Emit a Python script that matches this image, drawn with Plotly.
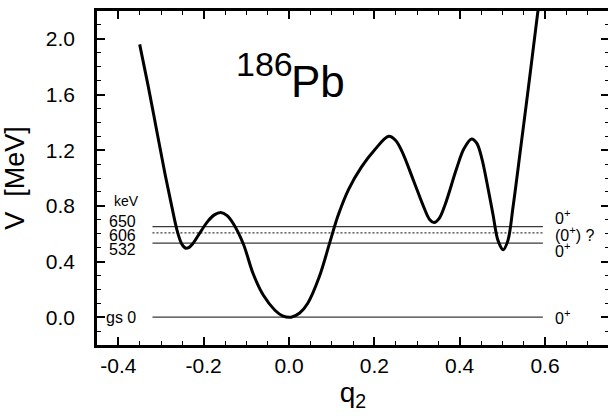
import plotly.graph_objects as go

# Potential energy curve V(q2) for 186Pb
q2 = [-0.35, -0.33, -0.31, -0.29, -0.275, -0.262, -0.252, -0.243, -0.235, -0.225,
      -0.21, -0.19, -0.175, -0.16, -0.145, -0.13, -0.107, -0.084, -0.06, -0.033,
      -0.015, 0.005, 0.025, 0.044, 0.071, 0.095, 0.115, 0.14, 0.17, 0.20,
      0.234, 0.25, 0.265, 0.292, 0.316, 0.33, 0.34, 0.352, 0.366, 0.393,
      0.41, 0.428, 0.44, 0.452, 0.463, 0.478, 0.49, 0.502, 0.513, 0.525,
      0.544, 0.564, 0.583, 0.59]
V = [1.96, 1.66, 1.34, 1.02, 0.80, 0.62, 0.53, 0.497, 0.50, 0.53,
     0.60, 0.69, 0.735, 0.752, 0.73, 0.67, 0.526, 0.312, 0.157, 0.05,
     0.01, 0.0, 0.03, 0.10, 0.29, 0.53, 0.73, 0.92, 1.08, 1.20,
     1.30, 1.27, 1.19, 0.98, 0.79, 0.70, 0.68, 0.71, 0.81, 1.07,
     1.21, 1.28, 1.25, 1.14, 0.98, 0.74, 0.55, 0.485, 0.55, 0.79,
     1.24, 1.72, 2.19, 2.35]

# Experimental 0+ levels (keV)
level_kev = [650, 606, 532, 0]
level_left = ["650", "606", "532", "gs 0"]
level_right = ["0<sup>+</sup>", "(0<sup>+</sup>) ?", "0<sup>+</sup>", "0<sup>+</sup>"]
level_dash = ["solid", "2px,2px", "solid", "solid"]
left_label_y = [0.69, 0.59, 0.485, 0.0]
right_label_y = [0.72, 0.595, 0.485, 0.0]
level_x = [-0.32, 0.595]

x_ticks = [-0.4, -0.2, 0.0, 0.2, 0.4, 0.6]
x_ticktext = ["-0.4", "-0.2", "0.0", "0.2", "0.4", "0.6"]
y_ticks = [0.0, 0.4, 0.8, 1.2, 1.6, 2.0]
y_ticktext = ["0.0", "0.4", "0.8", "1.2", "1.6", "2.0"]

FONT = "Liberation Sans, Arial, Helvetica, sans-serif"

fig = go.Figure()

for e, dash in zip(level_kev, level_dash):
    fig.add_trace(go.Scatter(
        x=level_x, y=[e / 1000.0, e / 1000.0], mode="lines",
        line=dict(color="#3a3a3a", width=1.2, dash=dash),
        hoverinfo="skip", showlegend=False))

fig.add_trace(go.Scatter(
    x=q2, y=V, mode="lines",
    line=dict(color="black", width=3, shape="spline", smoothing=1.0),
    showlegend=False))

annotations = []
for txt, yy in zip(level_left, left_label_y):
    annotations.append(dict(x=-0.3535, y=yy, xref="x", yref="y", text=txt,
                            showarrow=False, xanchor="right", yanchor="middle",
                            font=dict(family=FONT, size=16, color="black")))
for txt, yy in zip(level_right, right_label_y):
    annotations.append(dict(x=0.619, y=yy, xref="x", yref="y", text=txt,
                            showarrow=False, xanchor="left", yanchor="middle",
                            font=dict(family=FONT, size=16, color="black")))
annotations.append(dict(x=-0.414, y=0.836, xref="x", yref="y", text="keV",
                        showarrow=False, xanchor="left", yanchor="middle",
                        font=dict(family=FONT, size=14, color="black")))
annotations.append(dict(x=-0.128, y=1.82, xref="x", yref="y", text="186",
                        showarrow=False, xanchor="left", yanchor="middle",
                        font=dict(family=FONT, size=34, color="black")))
annotations.append(dict(x=0.001, y=1.69, xref="x", yref="y", text="Pb",
                        showarrow=False, xanchor="left", yanchor="middle",
                        font=dict(family=FONT, size=44, color="black")))

axis_common = dict(
    showline=True, linecolor="black", linewidth=2.5, mirror="ticks",
    ticks="inside", ticklen=8, tickwidth=1.5, tickcolor="black",
    showgrid=False, zeroline=False,
    tickfont=dict(family=FONT, size=21, color="black"),
)

fig.update_layout(
    width=620, height=416,
    margin=dict(l=97, r=8, t=9, b=71),
    paper_bgcolor="white", plot_bgcolor="white",
    annotations=annotations,
    xaxis=dict(range=[-0.45, 0.75], tickvals=x_ticks, ticktext=x_ticktext,
               minor=dict(dtick=0.05, tick0=0, ticks="inside", ticklen=4,
                          tickwidth=1.2, tickcolor="black"),
               title=dict(text="q<sub>2</sub>", standoff=6,
                          font=dict(family=FONT, size=28, color="black")),
               **axis_common),
    yaxis=dict(range=[-0.2, 2.2], tickvals=y_ticks, ticktext=y_ticktext,
               ticklabelstandoff=15,
               minor=dict(dtick=0.1, tick0=0, ticks="inside", ticklen=4,
                          tickwidth=1.2, tickcolor="black"),
               title=dict(text="V  [MeV]", standoff=14,
                          font=dict(family=FONT, size=27, color="black")),
               **axis_common),
)

fig.write_html(
    "out.html",
    post_script="document.documentElement.style.overflow='hidden';"
                "document.body.style.overflow='hidden';"
                "document.body.style.margin='0';",
)
